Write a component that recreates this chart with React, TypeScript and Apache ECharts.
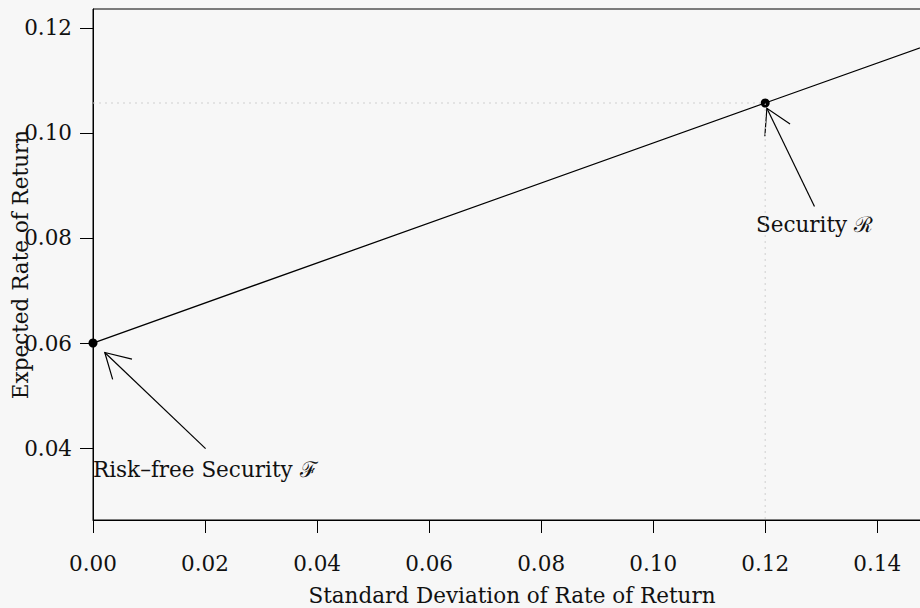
import React, { useEffect, useRef } from "react";
import * as echarts from "echarts";

// ---- data ----
const xTicks = [0, 0.02, 0.04, 0.06, 0.08, 0.1, 0.12, 0.14];
const yTicks = [0.04, 0.06, 0.08, 0.1, 0.12];
const xRange = [0, 0.1496];
const yRange = [0.0263, 0.1236];

// capital allocation line: risk-free point, security R, extension
const cmlLine: [number, number][] = [
  [0, 0.06],
  [0.12, 0.1057],
  [0.15, 0.1171],
];
const securityPoints: [number, number][] = [
  [0, 0.06],
  [0.12, 0.1057],
];
const guideH: [number, number][] = [
  [0, 0.1057],
  [0.12, 0.1057],
];
const guideV: [number, number][] = [
  [0.12, 0.1057],
  [0.12, 0.0263],
];
// arrows: [tailX, tailY, tipX, tipY]
const arrows: [number, number, number, number][] = [
  [0.0201, 0.0399, 0.0021, 0.0582],
  [0.1288, 0.086, 0.1203, 0.1047],
];
const labelNames = ["Risk\u2013free Security \u2131", "Security \u211B"];
const labelPos: [number, number][] = [
  [0, 0.0359],
  [0.1288, 0.0825],
];

const FONT = "DejaVu Serif";

export default function App() {
  const ref = useRef<HTMLDivElement>(null);
  useEffect(() => {
    if (!ref.current) return;
    const chart = echarts.init(ref.current, undefined, { renderer: "svg" });
    const textStyle = { fontFamily: FONT, fontSize: 21.5, color: "#111" };
    chart.setOption({
      animation: false,
      backgroundColor: "#f7f7f7",
      textStyle: { fontFamily: FONT },
      grid: {
        left: 93,
        right: -11,
        top: 9,
        bottom: 88,
        outerBoundsMode: "none",
        containLabel: false,
        show: true,
        borderColor: "#000",
        borderWidth: 1,
        backgroundColor: "transparent",
      },
      xAxis: {
        type: "value",
        min: xRange[0],
        max: xRange[1],
        interval: 0.02,
        name: "Standard Deviation of Rate of Return",
        nameLocation: "middle",
        nameGap: 64,
        nameMoveOverlap: false,
        nameTextStyle: textStyle,
        axisLine: { show: true, onZero: false, lineStyle: { color: "#000", width: 1 } },
        axisTick: {
          show: true,
          length: 13,
          customValues: xTicks,
          lineStyle: { color: "#000" },
        },
        axisLabel: {
          ...textStyle,
          margin: 32,
          customValues: xTicks,
          formatter: (v: number) => v.toFixed(2),
        },
        splitLine: { show: false },
      },
      yAxis: {
        type: "value",
        min: yRange[0],
        max: yRange[1],
        name: "Expected Rate of Return",
        nameLocation: "middle",
        nameGap: 62,
        nameMoveOverlap: false,
        nameTextStyle: textStyle,
        axisLine: { show: true, onZero: false, lineStyle: { color: "#000", width: 1 } },
        axisTick: {
          show: true,
          length: 13,
          customValues: yTicks,
          lineStyle: { color: "#000" },
        },
        axisLabel: {
          ...textStyle,
          margin: 21,
          customValues: yTicks,
          formatter: (v: number) => v.toFixed(2),
        },
        splitLine: { show: false },
      },
      series: [
        {
          type: "line",
          data: guideH,
          symbol: "none",
          lineStyle: { color: "#cfcfcf", width: 1, type: [2, 4] },
          silent: true,
        },
        {
          type: "line",
          data: guideV,
          symbol: "none",
          lineStyle: { color: "#cfcfcf", width: 1, type: [2, 4] },
          silent: true,
        },
        {
          type: "line",
          data: cmlLine,
          symbol: "none",
          lineStyle: { color: "#000", width: 1.3 },
        },
        {
          type: "scatter",
          data: securityPoints,
          symbol: "circle",
          symbolSize: 9,
          clip: false,
          itemStyle: { color: "#000", opacity: 1 },
        },
        {
          type: "custom",
          data: arrows,
          encode: { x: [0, 2], y: [1, 3] },
          clip: false,
          renderItem: (params: any, api: any) => {
            const tail = api.coord([api.value(0), api.value(1)]);
            const tip = api.coord([api.value(2), api.value(3)]);
            const ang = Math.atan2(tail[1] - tip[1], tail[0] - tip[0]);
            const len = 28;
            const da = (30 * Math.PI) / 180;
            const h1 = [tip[0] + len * Math.cos(ang + da), tip[1] + len * Math.sin(ang + da)];
            const h2 = [tip[0] + len * Math.cos(ang - da), tip[1] + len * Math.sin(ang - da)];
            const style = { stroke: "#000", lineWidth: 1.2, fill: null };
            return {
              type: "group",
              children: [
                { type: "line", shape: { x1: tail[0], y1: tail[1], x2: tip[0], y2: tip[1] }, style },
                { type: "polyline", shape: { points: [h1, tip, h2] }, style },
              ],
            };
          },
        },
        {
          type: "scatter",
          symbolSize: 0,
          clip: false,
          itemStyle: { color: "#111", opacity: 1 },
          data: [
            {
              name: labelNames[0],
              value: labelPos[0],
              label: { show: true, position: "right", distance: 0, formatter: "{b}", ...textStyle },
            },
            {
              name: labelNames[1],
              value: labelPos[1],
              label: { show: true, position: "inside", formatter: "{b}", textBorderWidth: 0, ...textStyle },
            },
          ],
        },
      ],
    });
    return () => chart.dispose();
  }, []);
  return (
    <div
      ref={ref}
      style={{ position: "fixed", left: 0, top: 0, width: 920, height: 608 }}
    />
  );
}
